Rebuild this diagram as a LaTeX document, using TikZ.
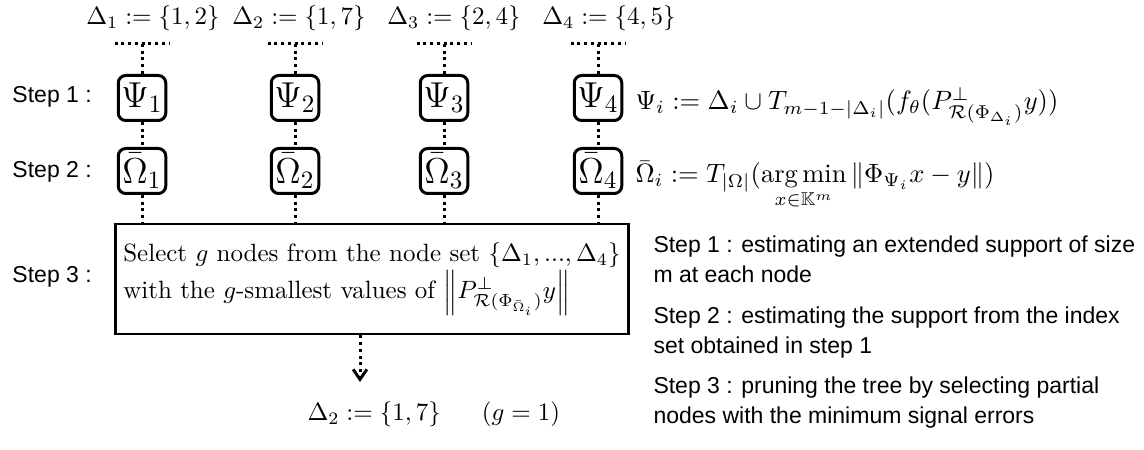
\documentclass[tikz,border=0pt]{standalone}
\usepackage{amsmath}
\usepackage{amssymb}
\usepackage{fontspec}
\usepackage{tikz}
\usetikzlibrary{arrows.meta,positioning}
\newfontfamily\stepfont{Liberation Sans}
\tikzset{
  stagebox/.style={draw,line width=1.2pt,rounded corners=3pt,minimum width=19pt,minimum height=18pt,inner sep=1pt,font=\Large},
  selectbox/.style={draw,line width=1.1pt,minimum width=203pt,minimum height=44pt,inner sep=3pt,align=left},
  dotlink/.style={line width=1.2pt,dash pattern=on 1.2pt off 1.5pt},
  dotarrow/.style={dotlink,-{Straight Barb[length=4pt,width=5.5pt]}},
  steplabel/.style={anchor=west,inner sep=0pt,font=\stepfont\fontsize{9.2}{12}\selectfont},
  notetext/.style={anchor=north west,inner sep=0pt,align=left,font=\stepfont\fontsize{9.2}{12}\selectfont},
  deftext/.style={anchor=base west,inner sep=0pt,scale=1.06,transform shape},
}
\begin{document}
\begin{tikzpicture}[x=0.4pt,y=-0.4pt]
    \useasboundingbox (0,0) rectangle (1144,450);
    % initial supports
    \node[anchor=base,inner sep=0pt] (d1) at (153,25) {$\Delta_1 := \{1,2\}$};
    \node[anchor=base,inner sep=0pt] (d2) at (299,25) {$\Delta_2 := \{1,7\}$};
    \node[anchor=base,inner sep=0pt] (d3) at (454,25) {$\Delta_3 := \{2,4\}$};
    \node[anchor=base,inner sep=0pt] (d4) at (609,25) {$\Delta_4 := \{4,5\}$};
    \coordinate (top1) at (142,44); \coordinate (top2) at (295,44);
    \coordinate (top3) at (444,44); \coordinate (top4) at (598,44);
    % step 1 and step 2 nodes
    \node[stagebox] (psi1) at (142,98) {$\Psi_1$};
    \node[stagebox] (psi2) at (295,98) {$\Psi_2$};
    \node[stagebox] (psi3) at (444,98) {$\Psi_3$};
    \node[stagebox] (psi4) at (598,98) {$\Psi_4$};
    \node[stagebox,below=10pt of psi1] (om1) {$\bar{\Omega}_1$};
    \node[stagebox,below=10pt of psi2] (om2) {$\bar{\Omega}_2$};
    \node[stagebox,below=10pt of psi3] (om3) {$\bar{\Omega}_3$};
    \node[stagebox,below=10pt of psi4] (om4) {$\bar{\Omega}_4$};
    % step 3 selection
    \node[selectbox] (sel) at (372,279) {Select $g$ nodes from the node set $\{\Delta_1,...,\Delta_4\}$\\
      with the $g$-smallest values of $\left\|P^{\perp}_{\mathcal{R}(\Phi_{\bar{\Omega}_i})}y\right\|$};
    \node[anchor=base west,inner sep=0pt] (res) at (307,421) {$\Delta_2 := \{1,7\}$};
    \node[anchor=base west,inner sep=0pt] (gval) at ([xshift=16pt]res.base east) {$(g = 1)$};
    \coordinate (tip) at (360,382);
    % step labels
    \node[steplabel] (s1) at (12,97) {Step 1 :};
    \node[steplabel] (s2) at (12,172) {Step 2 :};
    \node[steplabel] (s3) at (12,277) {Step 3 :};
    % definitions
    \node[deftext] (psidef) at (635,110)
      {$\Psi_i := \Delta_i \cup T_{m-1-|\Delta_i|}(f_\theta(P^{\perp}_{\mathcal{R}(\Phi_{\Delta_i})}y))$};
    \node[deftext] (omdef) at (635,183)
      {$\displaystyle \bar{\Omega}_i := T_{|\Omega|}(\mathop{\mathrm{arg\,min}}\limits_{x\in\mathbb{K}^m}\|\Phi_{\Psi_i}x-y\|)$};
    \node[notetext] (n1) at (653,235) {Step 1 : estimating an extended support of size\\ m at each node};
    \node[notetext] (n2) at (653,306) {Step 2 : estimating the support from the index\\ set obtained in step 1};
    \node[notetext] (n3) at (653,376) {Step 3 : pruning the tree by selecting partial\\ nodes with the minimum signal errors};
    % connectors
    \draw[dotlink] ([xshift=-11pt]top1) -- ([xshift=11pt]top1); \draw[dotlink] ([xshift=-11pt]top2) -- ([xshift=11pt]top2);
    \draw[dotlink] ([xshift=-11pt]top3) -- ([xshift=11pt]top3); \draw[dotlink] ([xshift=-11pt]top4) -- ([xshift=11pt]top4);
    \draw[dotlink] (top1) -- (psi1); \draw[dotlink] (top2) -- (psi2); \draw[dotlink] (top3) -- (psi3); \draw[dotlink] (top4) -- (psi4);
    \draw[dotlink] (psi1) -- (om1); \draw[dotlink] (psi2) -- (om2); \draw[dotlink] (psi3) -- (om3); \draw[dotlink] (psi4) -- (om4);
    \draw[dotlink] (om1) -- (om1 |- sel.north); \draw[dotlink] (om2) -- (om2 |- sel.north);
    \draw[dotlink] (om3) -- (om3 |- sel.north); \draw[dotlink] (om4) -- (om4 |- sel.north);
    \draw[dotarrow] (tip |- sel.south) -- (tip);
  \end{tikzpicture}
\end{document}
